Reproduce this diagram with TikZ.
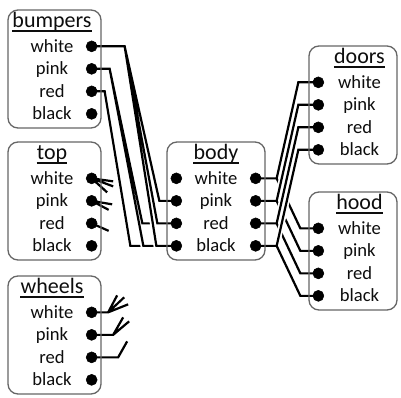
\documentclass[tikz,border=0pt]{standalone}
\usepackage{fontspec}
\setmainfont{Carlito}
\usetikzlibrary{positioning}
\pgfdeclarelayer{bg}
\pgfsetlayers{bg,main}

\begin{document}
\begin{tikzpicture}[x=1pt,y=-1pt,
	box/.style={draw=black!60, line width=1.3pt, rounded corners=10pt, minimum height=118pt},
	ttl/.style={inner sep=0pt, text=black!95, font=\fontsize{22}{24}\selectfont},
	row/.style={inner sep=0pt, text height=12pt, text depth=0pt, text=black!95, font=\fontsize{18.6}{20}\selectfont},
	ball/.style={circle, fill=black, draw=black, line width=0.5pt, inner sep=0pt, minimum size=11pt},
	wire/.style={line width=2.2pt, preaction={draw, white, line width=5.8pt}},
	uline/.style={line width=1.6pt, black!95}]
	\useasboundingbox (0,0) rectangle (401,398);
	
	% boxes
	\node[box, minimum width=93pt] (bu) at (54.5,69) {};
	\node[box, minimum width=93pt] (to) at (54.5,201) {};
	\node[box, minimum width=93pt] (wh) at (54.5,335) {};
	\node[box, minimum width=98pt] (bo) at (216,201) {};
	\node[box, minimum width=88pt] (do) at (353,105) {};
	\node[box, minimum width=88pt] (ho) at (353,251) {};
	
	% bumpers
	\node[ttl, below=18pt of bu.north, anchor=base, xshift=-2.5pt] (bu0) {bumpers};
	\node[row, below=25pt of bu0.base, anchor=base] (bu1) {white};
	\node[row, below=22.5pt of bu1.base, anchor=base] (bu2) {pink};
	\node[row, below=22.5pt of bu2.base, anchor=base] (bu3) {red};
	\node[row, below=22.5pt of bu3.base, anchor=base] (bu4) {black};
	\node[ball] (bud1) at ([xshift=-10pt]bu.east |- bu1) {};
	\node[ball] (bud2) at ([xshift=-10pt]bu.east |- bu2) {};
	\node[ball] (bud3) at ([xshift=-10pt]bu.east |- bu3) {};
	\node[ball] (bud4) at ([xshift=-10pt]bu.east |- bu4) {};
	
	% top
	\node[ttl, below=18pt of to.north, anchor=base, xshift=-2.5pt] (to0) {top};
	\node[row, below=25pt of to0.base, anchor=base] (to1) {white};
	\node[row, below=22.5pt of to1.base, anchor=base] (to2) {pink};
	\node[row, below=22.5pt of to2.base, anchor=base] (to3) {red};
	\node[row, below=22.5pt of to3.base, anchor=base] (to4) {black};
	\node[ball] (tod1) at ([xshift=-10pt]to.east |- to1) {};
	\node[ball] (tod2) at ([xshift=-10pt]to.east |- to2) {};
	\node[ball] (tod3) at ([xshift=-10pt]to.east |- to3) {};
	\node[ball] (tod4) at ([xshift=-10pt]to.east |- to4) {};
	
	% wheels
	\node[ttl, below=18pt of wh.north, anchor=base, xshift=-2.5pt] (wh0) {wheels};
	\node[row, below=25pt of wh0.base, anchor=base] (wh1) {white};
	\node[row, below=22.5pt of wh1.base, anchor=base] (wh2) {pink};
	\node[row, below=22.5pt of wh2.base, anchor=base] (wh3) {red};
	\node[row, below=22.5pt of wh3.base, anchor=base] (wh4) {black};
	\node[ball] (whd1) at ([xshift=-10pt]wh.east |- wh1) {};
	\node[ball] (whd2) at ([xshift=-10pt]wh.east |- wh2) {};
	\node[ball] (whd3) at ([xshift=-10pt]wh.east |- wh3) {};
	\node[ball] (whd4) at ([xshift=-10pt]wh.east |- wh4) {};
	
	% body
	\node[ttl, below=18pt of bo.north, anchor=base] (bo0) {body};
	\node[row, below=25pt of bo0.base, anchor=base] (bo1) {white};
	\node[row, below=22.5pt of bo1.base, anchor=base] (bo2) {pink};
	\node[row, below=22.5pt of bo2.base, anchor=base] (bo3) {red};
	\node[row, below=22.5pt of bo3.base, anchor=base] (bo4) {black};
	\node[ball] (bol1) at ([xshift=10pt]bo.west |- bo1) {};
	\node[ball] (bol2) at ([xshift=10pt]bo.west |- bo2) {};
	\node[ball] (bol3) at ([xshift=10pt]bo.west |- bo3) {};
	\node[ball] (bol4) at ([xshift=10pt]bo.west |- bo4) {};
	\node[ball] (bor1) at ([xshift=-10pt]bo.east |- bo1) {};
	\node[ball] (bor2) at ([xshift=-10pt]bo.east |- bo2) {};
	\node[ball] (bor3) at ([xshift=-10pt]bo.east |- bo3) {};
	\node[ball] (bor4) at ([xshift=-10pt]bo.east |- bo4) {};
	
	% doors
	\node[ttl, below=18pt of do.north, anchor=base, xshift=6.5pt] (do0) {doors};
	\node[row, below=25pt of do0.base, anchor=base] (do1) {white};
	\node[row, below=22.5pt of do1.base, anchor=base] (do2) {pink};
	\node[row, below=22.5pt of do2.base, anchor=base] (do3) {red};
	\node[row, below=22.5pt of do3.base, anchor=base] (do4) {black};
	\node[ball] (dod1) at ([xshift=10pt]do.west |- do1) {};
	\node[ball] (dod2) at ([xshift=10pt]do.west |- do2) {};
	\node[ball] (dod3) at ([xshift=10pt]do.west |- do3) {};
	\node[ball] (dod4) at ([xshift=10pt]do.west |- do4) {};
	
	% hood
	\node[ttl, below=18pt of ho.north, anchor=base, xshift=6.5pt] (ho0) {hood};
	\node[row, below=25pt of ho0.base, anchor=base] (ho1) {white};
	\node[row, below=22.5pt of ho1.base, anchor=base] (ho2) {pink};
	\node[row, below=22.5pt of ho2.base, anchor=base] (ho3) {red};
	\node[row, below=22.5pt of ho3.base, anchor=base] (ho4) {black};
	\node[ball] (hod1) at ([xshift=10pt]ho.west |- ho1) {};
	\node[ball] (hod2) at ([xshift=10pt]ho.west |- ho2) {};
	\node[ball] (hod3) at ([xshift=10pt]ho.west |- ho3) {};
	\node[ball] (hod4) at ([xshift=10pt]ho.west |- ho4) {};
	
	\foreach \n in {bu0,to0,wh0,bo0,do0,ho0}
		\draw[uline] ([yshift=-3.5pt]\n.base west) -- ([yshift=-3.5pt]\n.base east);
	
	\begin{pgfonlayer}{bg}
		% bumpers to body
		\draw[wire] (bud3.center) -- ++(13,0) -- ([xshift=-46pt]bol4.center) -- (bol4.center);
		\draw[wire] (bud2.center) -- ++(18,0) -- ([xshift=-34pt]bol3.center) -- (bol3.center)
			(bud2.center) -- ++(18,0) -- ([xshift=-33pt]bol4.center) -- (bol4.center);
		\draw[wire] (bud1.center) -- ++(33,0) coordinate (bub1) -- ([xshift=-17pt]bol2.center) -- (bol2.center)
			(bub1) -- ([xshift=-19pt]bol3.center) -- (bol3.center)
			(bub1) -- ([xshift=-20pt]bol4.center) -- (bol4.center);
		
		% top
		\draw[wire] (tod1.center) -- ++(21.5,3) (tod1.center) -- ++(21.5,8) (tod1.center) -- ++(15.5,14);
		\draw[wire] (tod2.center) -- ++(20.5,3.5) (tod2.center) -- ++(17,9);
		\draw[wire] (tod3.center) -- ++(17,7.5);
		
		% wheels
		\draw[wire] (whd1.center) -- ++(16.5,0) coordinate (whb1) -- ++(9,-17) (whb1) -- ++(16,-15) (whb1) -- ++(20,-8);
		\draw[wire] (whd2.center) -- ++(21.5,0) coordinate (whb2) -- ++(10,-17.5) (whb2) -- ++(16,-13.5);
		\draw[wire] (whd3.center) -- ++(26.5,0) -- ++(9,-16);
		
		% body to doors and hood
		\foreach \k in {1,...,4}
			\draw[wire] (bor\k.center) -- ++(21,0) coordinate (bob\k) -- ([xshift=-20pt]dod\k.center) -- (dod\k.center)
				(bob\k) -- ([xshift=-18pt]hod\k.center) -- (hod\k.center);
	\end{pgfonlayer}
\end{tikzpicture}
\end{document}
